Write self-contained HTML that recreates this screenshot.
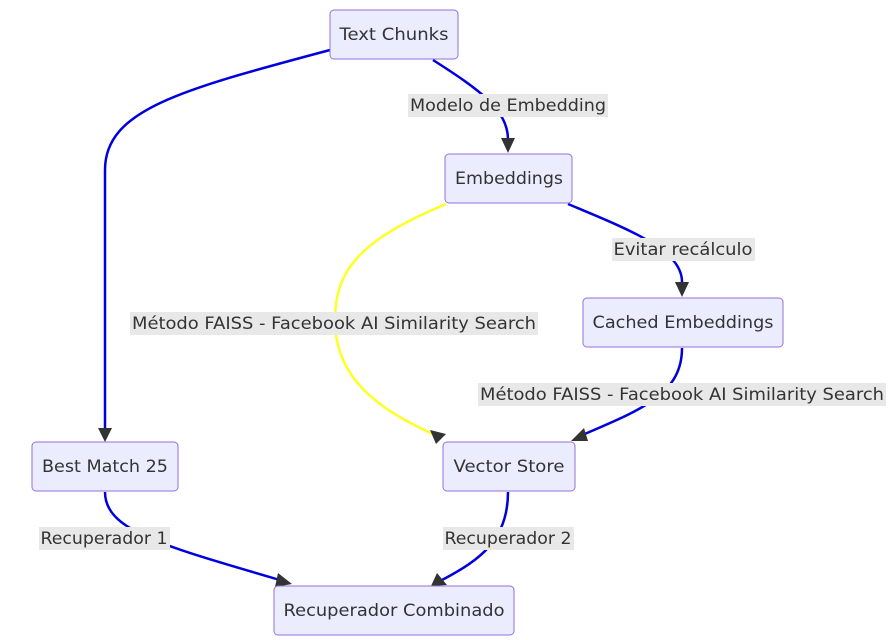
<!DOCTYPE html>
<html><head><meta charset="utf-8"><style>
html,body{margin:0;padding:0;background:#fff;width:889px;height:640px;overflow:hidden}
text{font-family:"DejaVu Sans","Liberation Sans",sans-serif;font-size:17px;fill:#333}
.n{fill:#ececff;stroke:#9370db;stroke-width:1}
.lb{fill:#e8e8e8}
.e{fill:none;stroke:#0000dd;stroke-width:2.5}
</style></head><body>
<svg width="889" height="640" viewBox="0 0 889 640" xmlns="http://www.w3.org/2000/svg">
<!-- edges -->
<path class="e" d="M330,50 C180,90 105,110 105,170 L105,430"/>
<path d="M98,428 L112,428 L105,442z" fill="#333"/>
<path class="e" d="M433,60 C480,90 508,110 508,140"/>
<path d="M501,138 L515,138 L508,153z" fill="#333"/>
<path d="M446,204 C360,240 335,270 335,320 C335,380 380,410 437,436" fill="none" stroke="#ffff22" stroke-width="2.5"/>
<path d="M430,430 L446,434 L436,444z" fill="#333"/>
<path class="e" d="M568,204 C630,230 682,250 682,282"/>
<path d="M675,282 L689,282 L682,297z" fill="#333"/>
<path class="e" d="M682,348 C682,395 640,410 580,436"/>
<path d="M584,428 L588,441 L571,441z" fill="#333"/>
<path class="e" d="M105,492 C105,530 160,545 280,580"/>
<path d="M278,573 L292,584 L275,587z" fill="#333"/>
<path class="e" d="M508,492 C508,540 480,560 442,580"/>
<path d="M437,573 L447,585 L431,586z" fill="#333"/>
<!-- nodes -->
<rect class="n" x="330" y="10" width="128" height="49" rx="4"/><text x="394" y="40" text-anchor="middle" textLength="109" lengthAdjust="spacingAndGlyphs">Text Chunks</text>
<rect class="n" x="445" y="154" width="127" height="49" rx="4"/><text x="509" y="184" text-anchor="middle" textLength="108" lengthAdjust="spacingAndGlyphs">Embeddings</text>
<rect class="n" x="583" y="298" width="200" height="49" rx="4"/><text x="683" y="328" text-anchor="middle" textLength="181" lengthAdjust="spacingAndGlyphs">Cached Embeddings</text>
<rect class="n" x="32" y="442" width="146" height="49" rx="4"/><text x="105" y="472" text-anchor="middle" textLength="126" lengthAdjust="spacingAndGlyphs">Best Match 25</text>
<rect class="n" x="443" y="442" width="132" height="49" rx="4"/><text x="509" y="472" text-anchor="middle" textLength="111" lengthAdjust="spacingAndGlyphs">Vector Store</text>
<rect class="n" x="274" y="586" width="240" height="49" rx="4"/><text x="394" y="616" text-anchor="middle" textLength="221" lengthAdjust="spacingAndGlyphs">Recuperador Combinado</text>
<!-- labels -->
<rect class="lb" x="408" y="94" width="200" height="23"/><text x="508" y="111" text-anchor="middle" textLength="196" lengthAdjust="spacingAndGlyphs">Modelo de Embedding</text>
<rect class="lb" x="612" y="238" width="143" height="23"/><text x="683" y="255" text-anchor="middle" textLength="139" lengthAdjust="spacingAndGlyphs">Evitar recálculo</text>
<rect class="lb" x="130" y="312" width="408" height="23"/><text x="334" y="329" text-anchor="middle" textLength="404" lengthAdjust="spacingAndGlyphs">Método FAISS - Facebook AI Similarity Search</text>
<rect class="lb" x="478" y="383" width="408" height="23"/><text x="682" y="400" text-anchor="middle" textLength="404" lengthAdjust="spacingAndGlyphs">Método FAISS - Facebook AI Similarity Search</text>
<rect class="lb" x="39" y="527" width="131" height="23"/><text x="104" y="544" text-anchor="middle" textLength="127" lengthAdjust="spacingAndGlyphs">Recuperador 1</text>
<rect class="lb" x="443" y="527" width="131" height="23"/><text x="508" y="544" text-anchor="middle" textLength="127" lengthAdjust="spacingAndGlyphs">Recuperador 2</text>
</svg>
</body></html>
